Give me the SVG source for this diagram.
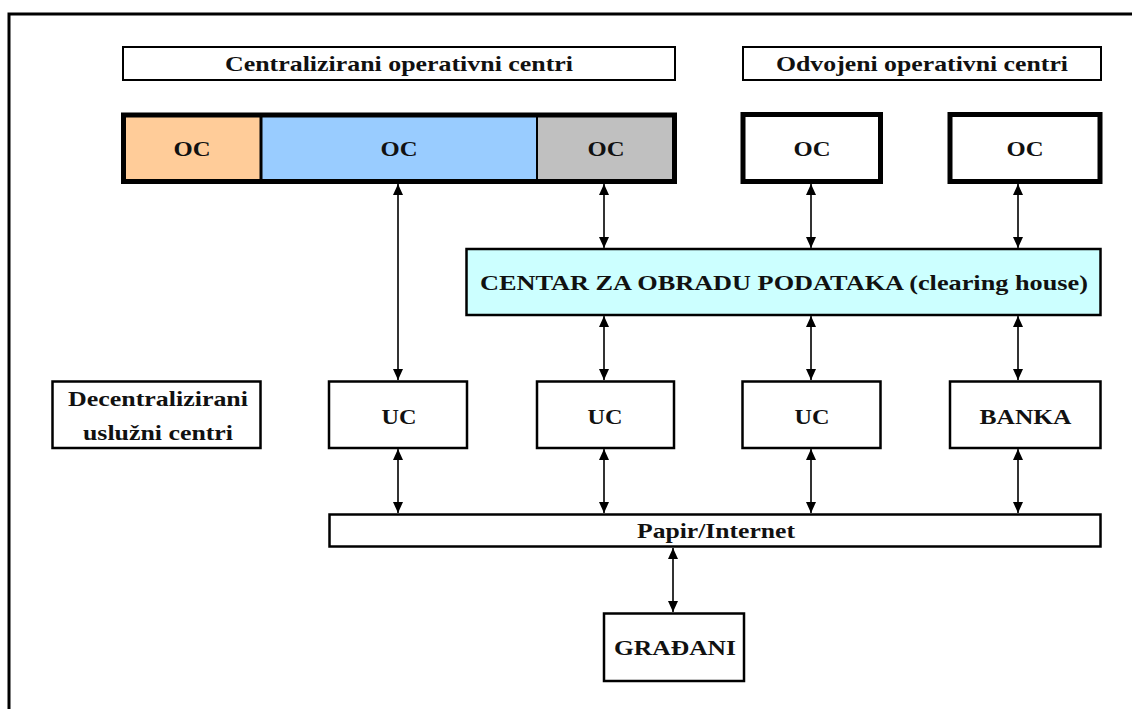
<svg xmlns="http://www.w3.org/2000/svg" width="1132" height="709" viewBox="0 0 1132 709">
<defs>
<style>
.t{font-family:"Liberation Serif","Times New Roman",serif;font-weight:bold;font-size:21px;fill:#111;text-anchor:middle}
.box{fill:#fff;stroke:#000;stroke-width:2.5}
.thin{fill:#fff;stroke:#000;stroke-width:2}
.thick{stroke:#000;stroke-width:5}
.conn{stroke:#333;stroke-width:2;fill:none;marker-start:url(#ah);marker-end:url(#ah)}
</style>
<marker id="ah" viewBox="0 0 11 11" refX="11" refY="5.5" markerWidth="11" markerHeight="11" markerUnits="userSpaceOnUse" orient="auto-start-reverse">
<path d="M0,0.5 L11,5.5 L0,10.5 Z" fill="#000"/>
</marker>
</defs>
<rect width="1132" height="709" fill="#fff"/>
<path d="M9,709 V14 H1132" fill="none" stroke="#000" stroke-width="3"/>

<g id="title-central">
<rect class="thin" x="123" y="47" width="552" height="33"/>
<text class="t" x="399" y="71" textLength="348" lengthAdjust="spacingAndGlyphs">Centralizirani operativni centri</text>
</g>
<g id="title-separate">
<rect class="thin" x="743" y="47" width="358" height="33"/>
<text class="t" x="922" y="71" textLength="292" lengthAdjust="spacingAndGlyphs">Odvojeni operativni centri</text>
</g>

<g id="oc-central">
<rect x="123.5" y="115" width="138" height="66.5" fill="#FFCC99"/>
<rect x="261.5" y="115" width="275.5" height="66.5" fill="#99CCFF"/>
<rect x="537" y="115" width="137.5" height="66.5" fill="#C0C0C0"/>
<rect class="thick" x="123.5" y="115" width="551" height="66.5" fill="none"/>
<line x1="261" y1="115" x2="261" y2="181.5" stroke="#000" stroke-width="3"/>
<line x1="537" y1="115" x2="537" y2="181.5" stroke="#000" stroke-width="2"/>
<text class="t" x="192" y="155.5" textLength="37" lengthAdjust="spacingAndGlyphs">OC</text>
<text class="t" x="399" y="155.5" textLength="37" lengthAdjust="spacingAndGlyphs">OC</text>
<text class="t" x="606" y="155.5" textLength="37" lengthAdjust="spacingAndGlyphs">OC</text>
</g>
<g id="oc-sep1">
<rect class="thick" x="743" y="114.5" width="137.5" height="67" fill="#fff"/>
<text class="t" x="812" y="155.5" textLength="37" lengthAdjust="spacingAndGlyphs">OC</text>
</g>
<g id="oc-sep2">
<rect class="thick" x="950" y="114.5" width="150" height="67" fill="#fff"/>
<text class="t" x="1025" y="155.5" textLength="37" lengthAdjust="spacingAndGlyphs">OC</text>
</g>

<g id="center">
<rect x="466.5" y="249" width="634" height="66" fill="#CCFFFF" stroke="#000" stroke-width="2.5"/>
<text class="t" x="784" y="290" textLength="608" lengthAdjust="spacingAndGlyphs">CENTAR ZA OBRADU PODATAKA (clearing house)</text>
</g>

<g id="decentral">
<rect class="box" x="52.5" y="381.5" width="208" height="66.5"/>
<text class="t" x="158" y="406" textLength="180" lengthAdjust="spacingAndGlyphs">Decentralizirani</text>
<text class="t" x="158" y="440" textLength="150" lengthAdjust="spacingAndGlyphs">uslužni centri</text>
</g>
<g id="uc1">
<rect class="box" x="329" y="381.5" width="138" height="66.5"/>
<text class="t" x="399" y="424" textLength="35" lengthAdjust="spacingAndGlyphs">UC</text>
</g>
<g id="uc2">
<rect class="box" x="537" y="381.5" width="137" height="66.5"/>
<text class="t" x="605" y="424" textLength="35" lengthAdjust="spacingAndGlyphs">UC</text>
</g>
<g id="uc3">
<rect class="box" x="742.5" y="381.5" width="138" height="66.5"/>
<text class="t" x="812" y="424" textLength="35" lengthAdjust="spacingAndGlyphs">UC</text>
</g>
<g id="banka">
<rect class="box" x="950" y="381.5" width="150.5" height="66.5"/>
<text class="t" x="1025.5" y="424" textLength="92" lengthAdjust="spacingAndGlyphs">BANKA</text>
</g>

<g id="papir">
<rect class="box" x="329.5" y="514.5" width="771" height="32"/>
<text class="t" x="716" y="538" textLength="158" lengthAdjust="spacingAndGlyphs">Papir/Internet</text>
</g>

<g id="gradani">
<rect class="box" x="604" y="613.5" width="140" height="67.5"/>
<text class="t" x="675" y="655" textLength="122" lengthAdjust="spacingAndGlyphs">GRAĐANI</text>
</g>

<g id="connectors">
<line class="conn" x1="398" y1="184" x2="398" y2="380"/>
<line class="conn" x1="604" y1="184" x2="604" y2="248"/>
<line class="conn" x1="811" y1="184" x2="811" y2="248"/>
<line class="conn" x1="1018" y1="184" x2="1018" y2="248"/>
<line class="conn" x1="604" y1="316" x2="604" y2="380"/>
<line class="conn" x1="811" y1="316" x2="811" y2="380"/>
<line class="conn" x1="1018" y1="316" x2="1018" y2="380"/>
<line class="conn" x1="398" y1="449" x2="398" y2="513"/>
<line class="conn" x1="604" y1="449" x2="604" y2="513"/>
<line class="conn" x1="811" y1="449" x2="811" y2="513"/>
<line class="conn" x1="1018" y1="449" x2="1018" y2="513"/>
<line class="conn" x1="673" y1="548" x2="673" y2="612"/>
</g>
</svg>
